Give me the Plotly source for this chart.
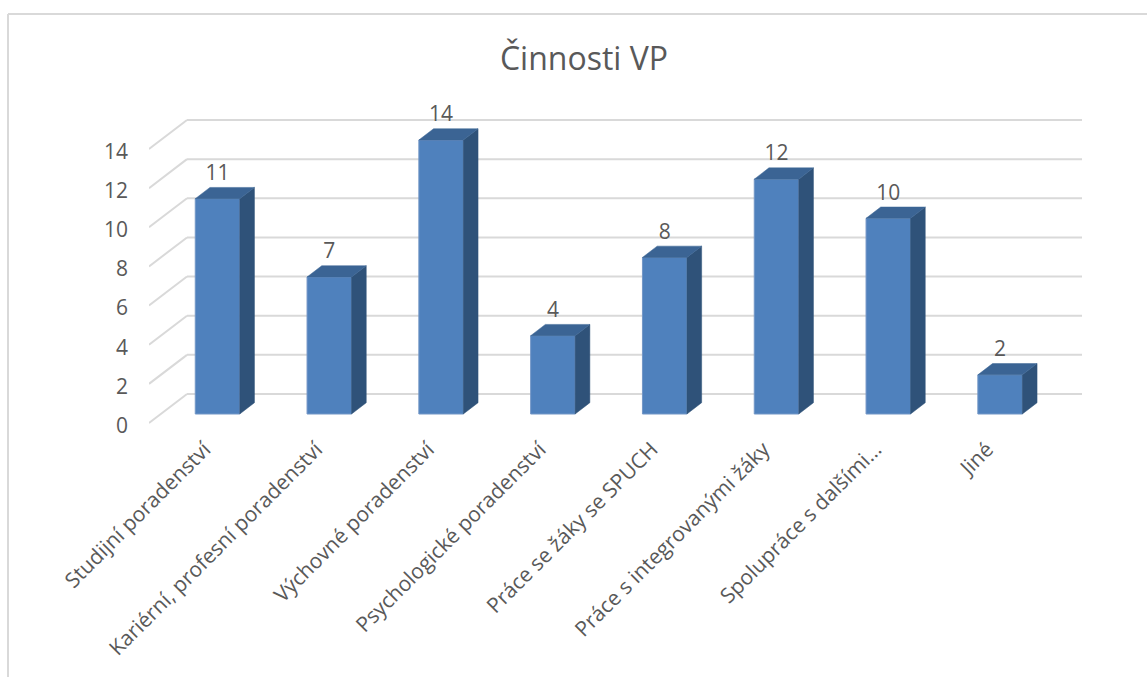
import plotly.graph_objects as go

# ---- data ----
categories = ["Studijní poradenství", "Kariérní, profesní poradenství", "Výchovné poradenství",
              "Psychologické poradenství", "Práce se žáky se SPUCH", "Práce s integrovanými žáky",
              "Spolupráce s dalšími…", "Jiné"]
values = [11, 7, 14, 4, 8, 12, 10, 2]
y_ticks = [0, 2, 4, 6, 8, 10, 12, 14]
title_text = "Činnosti VP"

# ---- look ----
W, H = 1147, 677
FONT = "Open Sans"
TXT = "#595959"
GRID = "#d9d9d9"
FRONT, SIDE, TOP, EDGE = "#4f81bd", "#2f5279", "#3b6494", "#7396c6"

# plot frame in pixels
L, R, T, B = 149, 1082, 100, 432
PX_PER_CAT, PX_PER_UNIT = 111.8, 19.57
X0_PX, Y0_PX = 217.5, 414
xr = [(L - X0_PX) / PX_PER_CAT, (R - X0_PX) / PX_PER_CAT]
yr = [(Y0_PX - B) / PX_PER_UNIT, (Y0_PX - T) / PX_PER_UNIT]

BAR_W = 44.5 / PX_PER_CAT
DX, DY = 14.7 / PX_PER_CAT, 11.3 / PX_PER_UNIT      # bar depth
WALL_DX = 38 / PX_PER_CAT                            # floor depth
WALL_FRONT = -9 / PX_PER_UNIT                        # front edge of the side wall
WALL_BACK = 20 / PX_PER_UNIT                         # back wall baseline
TICK_FRONT = -11.5 / PX_PER_UNIT                     # value labels sit a little below the wall edge
LABEL_UP = 24 / PX_PER_UNIT
LABEL_SHIFT = -13 / PX_PER_CAT                       # category labels end left of bar centre

idx = list(range(len(categories)))
fig = go.Figure()

fig.add_trace(go.Bar(x=idx, y=values, width=BAR_W, marker=dict(color=FRONT, line=dict(color=EDGE, width=1)),
                     showlegend=False, hoverinfo="skip"))

def face(xs, ys, color):
    fig.add_trace(go.Scatter(x=xs, y=ys, mode="lines", fill="toself", fillcolor=color,
                             line=dict(color=color, width=0.5), showlegend=False, hoverinfo="skip"))

for i, v in zip(idx, values):
    xl, xrr = i - BAR_W / 2, i + BAR_W / 2
    face([xrr, xrr + DX, xrr + DX, xrr, xrr], [0, DY, v + DY, v, 0], SIDE)
    face([xl, xl + DX, xrr + DX, xrr, xl], [v, v + DY, v + DY, v, v], TOP)

fig.add_trace(go.Scatter(x=idx, y=[v + LABEL_UP for v in values], mode="text",
                         text=[str(v) for v in values], textposition="middle center",
                         textfont=dict(family=FONT, size=21, color=TXT),
                         showlegend=False, hoverinfo="skip"))

shapes = []
for t in y_ticks:
    xb = xr[0] + WALL_DX
    yb = t + WALL_BACK
    line = dict(color=GRID, width=2)
    shapes.append(dict(type="line", xref="x", yref="y", layer="below",
                       x0=xr[0], y0=t + WALL_FRONT, x1=xb, y1=yb, line=line))
    shapes.append(dict(type="line", xref="x", yref="y", layer="below",
                       x0=xb, y0=yb, x1=xr[1], y1=yb, line=line))

# outer chart border, top and left only
pw, ph = R - L, B - T
bx = (8 - L) / pw
by = (H - 14 - (H - B)) / ph
shapes.append(dict(type="line", xref="paper", yref="paper", x0=bx, x1=(W - L) / pw, y0=by, y1=by,
                   line=dict(color=GRID, width=2)))
shapes.append(dict(type="line", xref="paper", yref="paper", x0=bx, x1=bx, y0=by, y1=(B - H) / ph,
                   line=dict(color=GRID, width=2)))

fig.update_layout(
    width=W, height=H, autosize=False,
    margin=dict(l=L, r=W - R, t=T, b=H - B, autoexpand=False),
    paper_bgcolor="white", plot_bgcolor="white",
    shapes=shapes, showlegend=False,
    title=dict(text=title_text, x=584 / W, xanchor="center", y=1 - 59 / H, yanchor="middle",
               font=dict(family=FONT, size=32, color=TXT)),
    xaxis=dict(range=xr, tickmode="array", tickvals=[i + LABEL_SHIFT for i in idx], ticktext=categories,
               tickangle=-45, showgrid=False, zeroline=False, showline=False, ticks="",
               tickfont=dict(family=FONT, size=21, color=TXT), automargin=False),
    yaxis=dict(range=yr, tickmode="array", tickvals=[t + TICK_FRONT for t in y_ticks],
               ticktext=[str(t) for t in y_ticks], showgrid=False, zeroline=False, showline=False,
               ticks="", ticklabelstandoff=20,
               tickfont=dict(family=FONT, size=21, color=TXT), automargin=False),
)

fig.write_html("out.html", config=dict(displayModeBar=False),
               post_script="document.body.style.margin='0';")
